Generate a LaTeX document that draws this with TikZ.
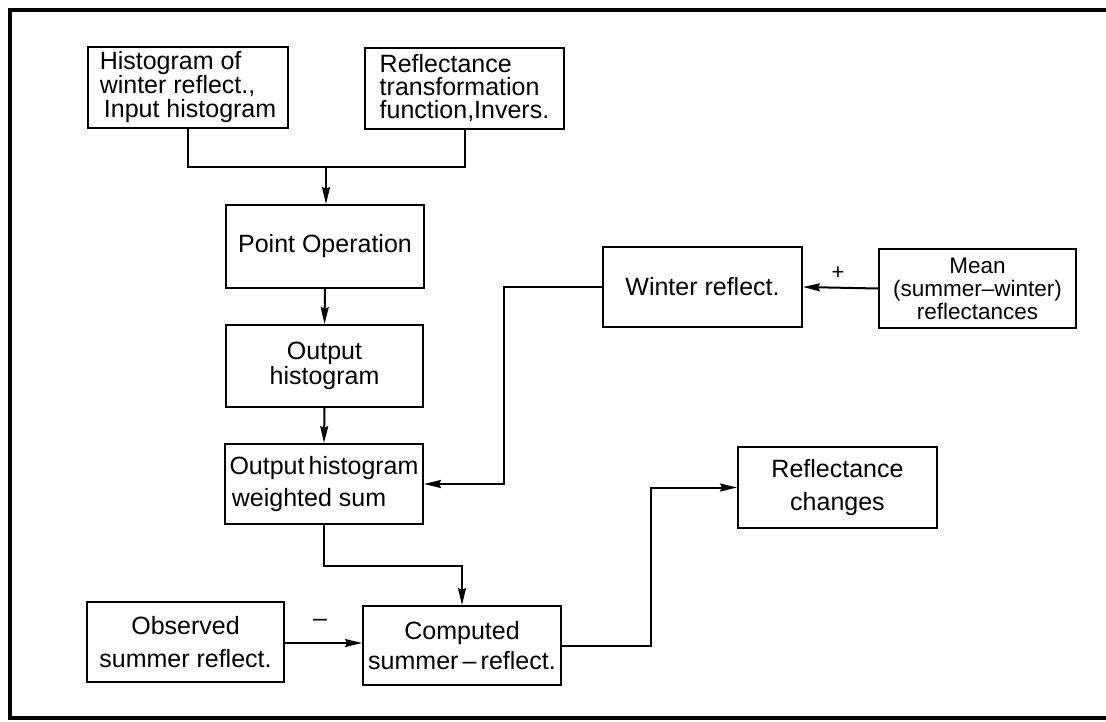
\documentclass[tikz,border=0pt]{standalone}
\usepackage{fontspec}
\setmainfont{Liberation Sans}
\usetikzlibrary{arrows.meta}
\tikzset{
  box/.style={draw, line width=2pt, rectangle, inner sep=4pt,
    font={\fontsize{25}{24}\selectfont}, align=center},
  arr/.style={line width=2pt, -{Stealth[length=17pt,width=8pt,inset=2pt]}},
  wire/.style={line width=2pt},
  frame/.style={line width=3.5pt},
  sign/.style={inner sep=0pt}
}
\begin{document}
\begin{tikzpicture}[x=1pt,y=-1pt]
\useasboundingbox (0,0) rectangle (1106,722);
\fill[white] (0,0) rectangle (1106,722);
\draw[frame] (10,10) rectangle (1125,718);

\node[box, minimum width=200pt, minimum height=81pt, align=left] (hist) at (188,87.5)
  {Histogram of\\winter reflect.,\\\,Input histogram};
\node[box, minimum width=199pt, minimum height=81pt, align=left, font={\fontsize{25}{23}\selectfont}] (rtf) at (464.5,88.5)
  {Reflectance\\transformation\\function,Invers.};
\node[box, minimum width=198pt, minimum height=83pt] (pop) at (325,246.5) {Point Operation};
\node[box, minimum width=197pt, minimum height=82pt, font={\fontsize{25}{23}\selectfont}] (ohist) at (324.5,366) {Output\\histogram};
\node[box, minimum width=198pt, minimum height=80pt, inner sep=1pt, font={\fontsize{25}{32}\selectfont}] (wsum) at (324,484) {Output\,histogram\\weighted sum\hspace*{1.2em}};
\node[box, minimum width=199pt, minimum height=80pt] (winter) at (702.5,287) {Winter reflect.};
\node[box, minimum width=197pt, minimum height=79pt, inner sep=1pt, font={\fontsize{22.5}{23}\selectfont}] (mean) at (977.5,288.5) {Mean\\(summer–winter)\\reflectances};
\node[box, minimum width=199pt, minimum height=81pt, font={\fontsize{25}{33}\selectfont}] (rchg) at (837.5,487.5) {Reflectance\\changes};
\node[box, minimum width=197pt, minimum height=80pt, font={\fontsize{25}{33}\selectfont}] (obs) at (185.5,642) {Observed\\summer reflect.};
\node[box, minimum width=198pt, minimum height=79pt, font={\fontsize{25}{30}\selectfont}] (comp) at (462,645.5) {Computed\\summer\,–\,reflect.};

\coordinate (j1) at (326,167);
\draw[wire] (hist.south) |- (j1) -| (rtf.south);
\draw[arr] (j1) -- (j1 |- pop.north);
\draw[arr] (pop.south) -- (ohist.north);
\draw[arr] (ohist.south) -- (wsum.north);

\coordinate (w1) at (504,287);
\draw[arr] (winter.west) -- (w1) |- (wsum.east);
\draw[arr] (mean.west) -- (winter.east);
\node[sign, font={\fontsize{22}{22}\selectfont}] (plus) at (838,273) {+};

\coordinate (s1) at (324,566);
\draw[arr] (wsum.south) -- (s1) -| (comp.north);
\draw[arr] (obs.east |- 0,643) -- (comp.west |- 0,643);
\node[sign, font={\fontsize{25}{25}\selectfont}] (minus) at (320,623) {–};

\coordinate (c1) at (651,645.5);
\draw[arr] (comp.east) -- (c1) |- (rchg.west);
\end{tikzpicture}
\end{document}
